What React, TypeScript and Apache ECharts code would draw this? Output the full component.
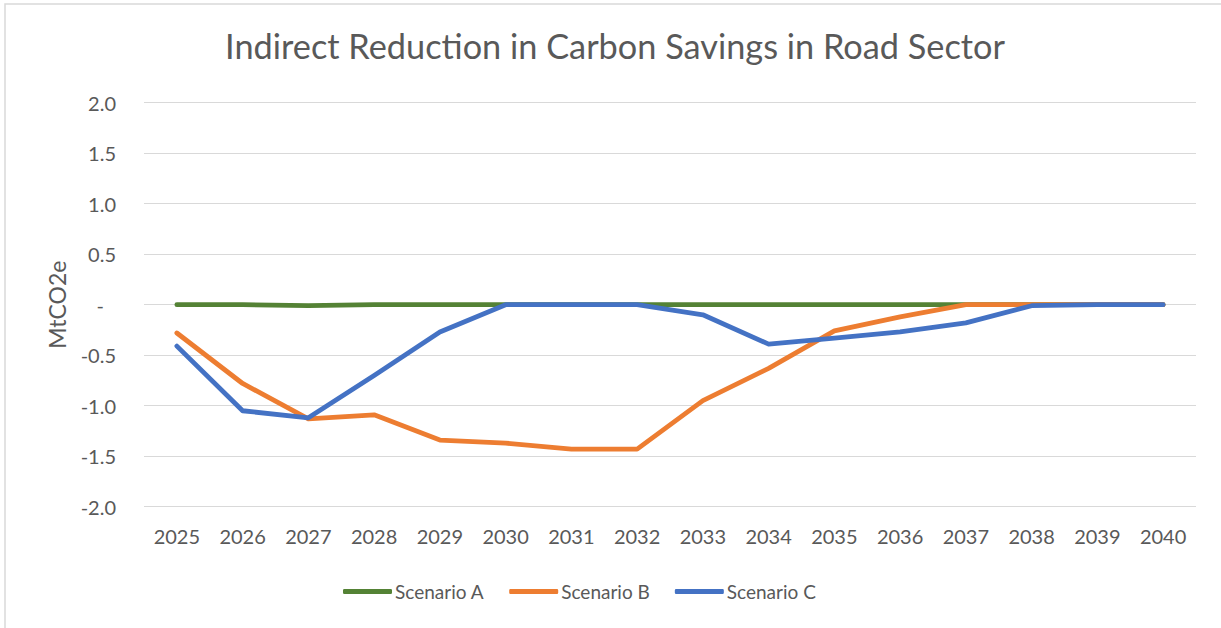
import React, { useEffect, useRef } from "react";
import * as echarts from "echarts";

const years = ["2025","2026","2027","2028","2029","2030","2031","2032","2033","2034","2035","2036","2037","2038","2039","2040"];
const scenarioA = [0, 0, -0.01, 0, 0, 0, 0, 0, 0, 0, 0, 0, 0, 0, 0, 0];
const scenarioB = [-0.28, -0.78, -1.13, -1.09, -1.34, -1.37, -1.43, -1.43, -0.95, -0.63, -0.26, -0.12, 0, 0, 0, 0];
const scenarioC = [-0.41, -1.05, -1.12, -0.70, -0.27, 0, 0, 0, -0.10, -0.39, -0.33, -0.27, -0.18, -0.01, 0, 0];
const seriesNames = ["Scenario A", "Scenario B", "Scenario C"];
const colors = ["#548235", "#ED7D31", "#4472C4"];
const titleText = "Indirect Reduction in Carbon Savings in Road Sector";
const yName = "MtCO2e";

const FONT = "Lato, 'Noto Sans', sans-serif";
const GREY = "#595959";

export default function App() {
  const ref = useRef<HTMLDivElement>(null);
  useEffect(() => {
    if (!ref.current) return;
    const chart = echarts.init(ref.current, null, { renderer: "svg" });
    const data = [scenarioA, scenarioB, scenarioC];
    chart.setOption({
      animation: false,
      backgroundColor: "#ffffff",
      textStyle: { fontFamily: FONT },
      title: {
        text: titleText,
        left: 610,
        textAlign: "center",
        top: 23,
        textStyle: { fontFamily: FONT, fontSize: 34.3, fontWeight: "normal", color: GREY },
      },
      graphic: [
        {
          type: "rect",
          shape: { x: 5, y: 4, width: 1400, height: 800 },
          style: { fill: "none", stroke: "#d9d9d9", lineWidth: 1.5 },
          silent: true,
          z: -1,
        },
      ],
      legend: {
        bottom: 22,
        left: 338,
        itemWidth: 49,
        itemHeight: 5,
        itemGap: 25,
        icon: "roundRect",
        textStyle: { fontFamily: FONT, fontSize: 19, color: GREY, padding: [0, 0, 0, -2] },
        data: seriesNames.map((n, i) => ({ name: n, itemStyle: { color: colors[i] } })),
      },
      grid: { left: 144, right: 25, top: 102.7, bottom: 121.3, containLabel: false },
      xAxis: {
        type: "category",
        data: years,
        boundaryGap: true,
        axisLine: { show: false },
        axisTick: { show: false },
        axisLabel: { fontFamily: FONT, fontSize: 20, color: GREY, margin: 19 },
      },
      yAxis: {
        type: "value",
        min: -2,
        max: 2,
        interval: 0.5,
        name: yName,
        nameLocation: "middle",
        nameRotate: 90,
        nameGap: 76,
        nameTextStyle: { fontFamily: FONT, fontSize: 23, color: GREY },
        axisLine: { show: false },
        axisTick: { show: false },
        splitLine: { lineStyle: { color: "#d9d9d9", width: 1 } },
        axisLabel: {
          fontFamily: FONT,
          fontSize: 20,
          color: GREY,
          margin: 28,
          formatter: (v: number) => (Math.abs(v) < 1e-9 ? "{z|-}" : v.toFixed(1)),
          rich: { z: { fontFamily: FONT, fontSize: 20, color: GREY, padding: [0, 12, 0, 0] } },
        },
      },
      series: data.map((d, i) => ({
        name: seriesNames[i],
        type: "line",
        data: d,
        symbol: "none",
        lineStyle: { color: colors[i], width: 4.8, cap: "round", join: "round" },
        itemStyle: { color: colors[i] },
        z: 2 + i,
      })),
    });
    return () => chart.dispose();
  }, []);
  return (
    <div
      ref={ref}
      style={{ position: "fixed", left: 0, top: 0, width: 1221, height: 628 }}
    />
  );
}
